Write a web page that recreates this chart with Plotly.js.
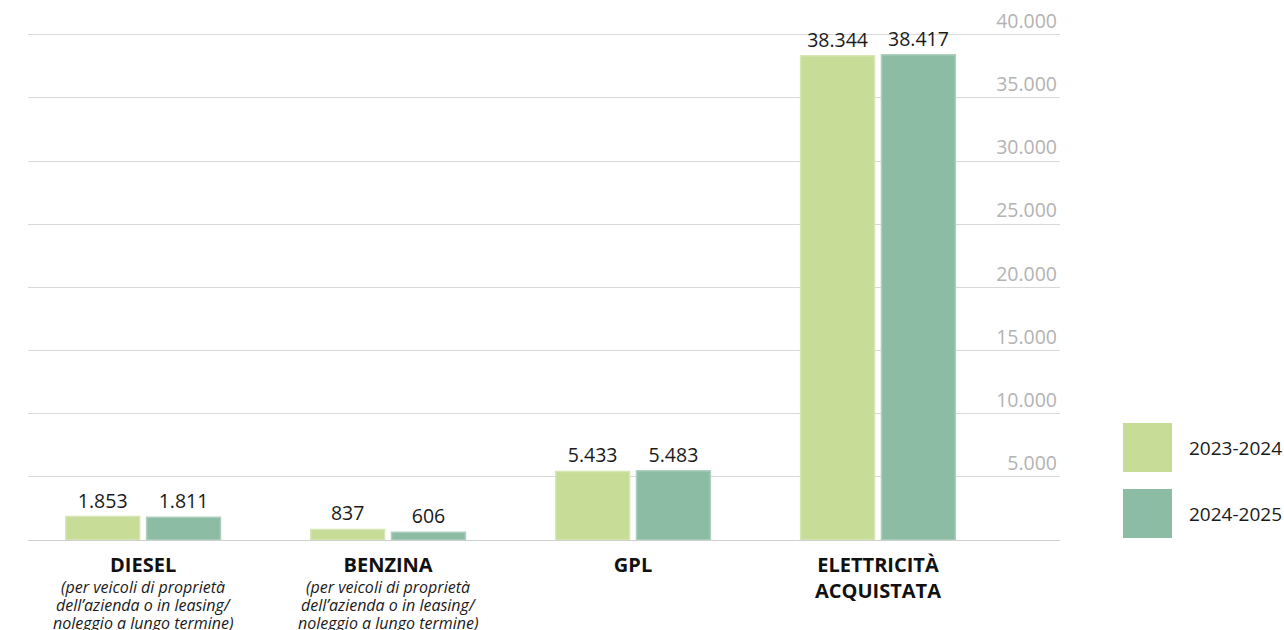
<!DOCTYPE html>
<html>
<head>
<meta charset="utf-8">
<script src="https://cdn.plot.ly/plotly-3.0.1.min.js"></script>
<style>html,body{margin:0;padding:0;background:#fff;}#chart{width:1284px;height:630px;}</style>
</head>
<body>
<div id="chart"></div>
<script>
const categories = ["DIESEL", "BENZINA", "GPL", "ELETTRICITÀ<br>ACQUISTATA"];
const subtitleLines = [
  ["(per veicoli di proprietà", "dell’azienda o in leasing/", "noleggio a lungo termine)"],
  ["(per veicoli di proprietà", "dell’azienda o in leasing/", "noleggio a lungo termine)"],
  [],
  []
];
const seriesNames = ["2023-2024", "2024-2025"];
const values2023 = [1853, 837, 5433, 38344];
const values2024 = [1811, 606, 5483, 38417];
const tickValues = [5000, 10000, 15000, 20000, 25000, 30000, 35000, 40000];
const tickLabels = ["5.000", "10.000", "15.000", "20.000", "25.000", "30.000", "35.000", "40.000"];
const colors = ["#c6dc97", "#8dbca4"];
const lineColors = ["#d6e7b4", "#acd0bd"];

const idx = categories.map((c, i) => i);
const tickText = categories.map(c => '<b>' + c + '</b>');

const series = [values2023, values2024];
const traces = series.map((vals, k) => ({
  type: 'bar',
  x: idx,
  y: vals,
  name: seriesNames[k],
  marker: {color: colors[k], line: {color: lineColors[k], width: 1.5}},
  texttemplate: '%{y:,}',
  textposition: 'outside',
  textfont: {family: 'Open Sans', size: 19.5, color: '#1a1a1a'},
  cliponaxis: false,
  showlegend: false,
  hoverinfo: 'skip'
}));

// plot area in pixels: x 28..1060, bottom 540 (40000 at y=35)
const YMAX = 42600;
const PL = 28, PW = 1032, PB = 540, PH = YMAX * 505 / 40000;
const shapes = [];
const annotations = [];
seriesNames.forEach((n, k) => {
  const top = 423 + k * 66;
  shapes.push({type: 'rect', xref: 'paper', yref: 'paper',
    x0: (1123 - PL) / PW, x1: (1172 - PL) / PW,
    y0: (PB - top) / PH, y1: (PB - (top + 49)) / PH,
    fillcolor: colors[k], line: {width: 0}});
  annotations.push({xref: 'paper', yref: 'paper', x: (1187 - PL) / PW,
    y: (PB - (top + 25)) / PH, xanchor: 'left', yanchor: 'middle',
    text: n, showarrow: false, font: {family: 'Open Sans', size: 19, color: '#1a1a1a'}});
});
subtitleLines.forEach((lines, i) => {
  lines.forEach((s, j) => {
    annotations.push({xref: 'x', yref: 'paper', x: i, y: (PB - (587 + j * 18)) / PH,
      xanchor: 'center', yanchor: 'middle', align: 'center',
      text: '<i>' + s + '</i>', showarrow: false,
      font: {family: 'Open Sans', size: 16, color: '#1a1a1a'}});
  });
});

const layout = {
  width: 1284, height: 630,
  margin: {l: PL, r: 1284 - PL - PW, t: PB - PH, b: 630 - PB, autoexpand: false},
  paper_bgcolor: '#fff', plot_bgcolor: '#fff',
  separators: ',.',
  font: {family: 'Open Sans', color: '#1a1a1a'},
  barmode: 'group',
  bargap: 0.34,
  bargroupgap: 0.086,
  xaxis: {
    range: [-0.47, 3.743],
    tickvals: idx, ticktext: tickText,
    tickfont: {family: 'Open Sans', size: 20, color: '#111'},
    ticklabelstandoff: 7,
    showgrid: false, zeroline: false,
    showline: true, linecolor: '#cfcfcf', linewidth: 1,
    ticks: '', fixedrange: true
  },
  yaxis: {
    range: [0, YMAX],
    side: 'right',
    tickvals: tickValues, ticktext: tickLabels,
    ticklabelposition: 'inside top',
    tickfont: {family: 'Open Sans', size: 19.5, color: '#b3b3b3'},
    showgrid: true, gridcolor: '#d9d9d9', gridwidth: 1,
    zeroline: false, ticks: '', fixedrange: true
  },
  shapes: shapes,
  annotations: annotations
};

Plotly.newPlot('chart', traces, layout, {displayModeBar: false, staticPlot: true});
</script>
</body>
</html>
